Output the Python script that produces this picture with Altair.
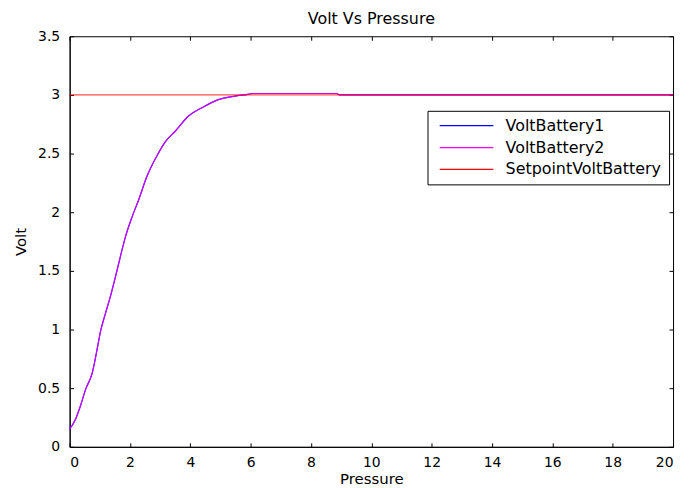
import altair as alt
import pandas as pd

# ---- data ----
pressure = [0.00, 0.20, 0.36, 0.53, 0.75, 0.91, 1.02, 1.19, 1.35, 1.52, 1.68, 1.85, 2.07, 2.28,
            2.57, 2.84, 3.17, 3.50, 3.94, 4.38, 4.93, 5.48, 5.90, 6.05, 8.85, 8.95, 20.0]
volt_battery1 = [0.15, 0.237, 0.35, 0.49, 0.63, 0.83, 0.98, 1.14, 1.28, 1.45, 1.62, 1.79, 1.96, 2.10,
                 2.31, 2.455, 2.60, 2.69, 2.82, 2.89, 2.96, 2.99, 3.005, 3.012, 3.012, 3.0, 3.0]
volt_battery2 = [0.15, 0.237, 0.35, 0.49, 0.63, 0.83, 0.98, 1.14, 1.28, 1.45, 1.62, 1.79, 1.96, 2.10,
                 2.31, 2.455, 2.60, 2.69, 2.82, 2.89, 2.96, 2.99, 3.005, 3.012, 3.012, 3.0, 3.0]
setpoint_pressure = [0, 20]
setpoint_volt = [3, 3]

series_names = ["VoltBattery1", "VoltBattery2", "SetpointVoltBattery"]
series_colors = ["#0000ff", "#ff00ff", "#ff0000"]
x_ticks = [0, 2, 4, 6, 8, 10, 12, 14, 16, 18, 20]
y_ticks = [0, 0.5, 1, 1.5, 2, 2.5, 3, 3.5]

rows = []
for p, v in zip(pressure, volt_battery1):
    rows.append({"Pressure": p, "Volt": v, "Series": series_names[0]})
for p, v in zip(pressure, volt_battery2):
    rows.append({"Pressure": p, "Volt": v, "Series": series_names[1]})
for p, v in zip(setpoint_pressure, setpoint_volt):
    rows.append({"Pressure": p, "Volt": v, "Series": series_names[2]})
df = pd.DataFrame(rows)

FONT = "DejaVu Sans"
W, H = 607, 413

xs = alt.Scale(domain=[0, 20], nice=False, zero=False)
ys = alt.Scale(domain=[0, 3.5], nice=False, zero=False)

# inward tick marks at both ends of each grid line (MATLAB box style)
x_axis = alt.Axis(values=x_ticks, title="Pressure", labelPadding=9, titlePadding=2,
                  grid=True, gridDash=[4, H - 8, 4, 3000], gridColor="black", gridOpacity=1,
                  gridWidth=1, ticks=False, tickSize=0, domainColor="black", domainWidth=1)
y_axis = alt.Axis(values=y_ticks, title="Volt", labelExpr="'' + datum.value",
                  labelPadding=10, titlePadding=9,
                  grid=True, gridDash=[4, W - 8, 4, 3000], gridColor="black", gridOpacity=1,
                  gridWidth=1, ticks=False, tickSize=0, domainColor="black", domainWidth=1)

color = alt.Color(
    "Series:N",
    scale=alt.Scale(domain=series_names, range=series_colors),
    legend=alt.Legend(
        title=None, orient="none", legendX=360, legendY=75,
        direction="vertical",
        symbolType="M-1.55,0H9.25", symbolSize=100, symbolStrokeWidth=1.3,
        symbolOpacity=1,
        symbolOffset=5, labelOffset=50.5,
        labelFont=FONT, labelFontSize=16, labelColor="black",
        padding=7, rowPadding=6,
        strokeColor="black", fillColor="white", cornerRadius=0,
    ),
)

base = alt.Chart(df)

blue = base.transform_filter(alt.datum.Series == series_names[0]).mark_line(
    strokeWidth=1.2, interpolate="monotone"
).encode(
    x=alt.X("Pressure:Q", scale=xs, axis=x_axis),
    y=alt.Y("Volt:Q", scale=ys, axis=y_axis),
    color=color,
)

magenta = base.transform_filter(alt.datum.Series == series_names[1]).mark_line(
    strokeWidth=1.2, opacity=0.8, interpolate="monotone"
).encode(
    x=alt.X("Pressure:Q", scale=xs, axis=x_axis),
    y=alt.Y("Volt:Q", scale=ys, axis=y_axis),
    color=color,
)

red = base.transform_filter(alt.datum.Series == series_names[2]).mark_line(
    strokeWidth=1.2, opacity=0.7
).encode(
    x=alt.X("Pressure:Q", scale=xs, axis=x_axis),
    y=alt.Y("Volt:Q", scale=ys, axis=y_axis),
    color=color,
)

chart = alt.layer(blue, magenta, red).properties(
    width=W, height=H,
    title=alt.TitleParams("Volt Vs Pressure", font=FONT, fontSize=16, fontWeight="normal",
                          color="black", anchor="middle", offset=2),
    padding={"left": 5, "top": 2, "right": 5, "bottom": 0},
    background="white",
).configure_view(
    stroke="black", strokeWidth=1
).configure_axis(
    labelFont=FONT, labelFontSize=14, labelColor="black",
    titleFont=FONT, titleFontSize=15, titleColor="black", titleFontWeight="normal",
)

chart.save("out.html", embed_options={"renderer": "svg", "actions": False})
